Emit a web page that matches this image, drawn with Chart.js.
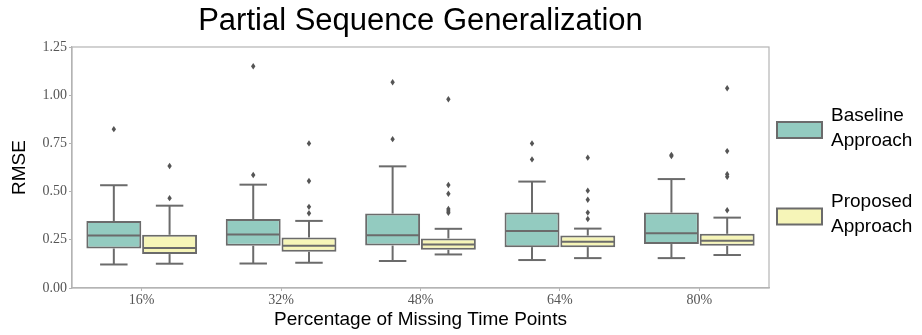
<!DOCTYPE html>
<html>
<head>
<meta charset="utf-8">
<script src="https://cdn.jsdelivr.net/npm/chart.js@4"></script>
<style>
  html, body { margin: 0; padding: 0; background: #fff; }
</style>
</head>
<body>
<canvas id="chart" width="922" height="335"></canvas>
<script>
/* ── DATOS ─────────────────────────────────── */

const CATEGORIAS = ["16%", "32%", "48%", "64%", "80%"];
const Y_TICKS = [0, 0.25, 0.5, 0.75, 1.0, 1.25];

// Baseline Approach
const baseMin = [0.122, 0.127, 0.140, 0.145, 0.155];
const baseQ1  = [0.205, 0.219, 0.220, 0.212, 0.228];
const baseMed = [0.272, 0.277, 0.274, 0.296, 0.284];
const baseQ3  = [0.347, 0.358, 0.386, 0.391, 0.391];
const baseMax = [0.533, 0.536, 0.631, 0.552, 0.565];
const baseOut = [
  [0.824],
  [1.150, 0.586],
  [1.067, 0.772],
  [0.750, 0.667],
  [0.690, 0.684],
];

// Proposed Approach
const propMin = [0.126, 0.131, 0.174, 0.155, 0.171];
const propQ1  = [0.176, 0.188, 0.198, 0.212, 0.219];
const propMed = [0.208, 0.219, 0.226, 0.240, 0.245];
const propQ3  = [0.276, 0.262, 0.257, 0.272, 0.281];
const propMax = [0.427, 0.348, 0.307, 0.308, 0.365];
const propOut = [
  [0.633, 0.466],
  [0.750, 0.555, 0.421, 0.388],
  [0.979, 0.534, 0.489, 0.410, 0.400, 0.390],
  [0.676, 0.505, 0.458, 0.391, 0.358],
  [1.036, 0.710, 0.590, 0.577, 0.403],
];

const SERIES = [
  { nombre: ["Baseline", "Approach"], min: baseMin, q1: baseQ1, med: baseMed, q3: baseQ3, max: baseMax, out: baseOut },
  { nombre: ["Proposed", "Approach"], min: propMin, q1: propQ1, med: propMed, q3: propQ3, max: propMax, out: propOut },
];

/* ── ESTILO ────────────────────────────────── */

const COLORS = ["#93cbc0", "#f6f5b8"];
const LINEA = "#6b6b6b";
const MARCO = "#b4b4b4";
const SANS = "'Liberation Sans', Arial, sans-serif";
const SERIF = "'Liberation Serif', 'Times New Roman', serif";

// ── PLUGIN: bigotes, medianas, outliers, marco, título y leyenda ──

const boxPlugin = {
  id: "boxExtras",
  beforeDatasetsDraw(chart) {
    const { ctx, chartArea: a } = chart;
    ctx.save();
    ctx.strokeStyle = MARCO;
    ctx.lineWidth = 1.2;
    ctx.strokeRect(a.left, a.top, a.right - a.left, a.bottom - a.top);
    ctx.restore();
  },
  afterDatasetsDraw(chart) {
    const { ctx } = chart;
    const y = chart.scales.y;
    ctx.save();
    ctx.strokeStyle = LINEA;
    ctx.lineWidth = 2;
    SERIES.forEach((s, d) => {
      chart.getDatasetMeta(d).data.forEach((bar, i) => {
        const x = bar.x, w = bar.width;
        const line = (x1, y1, x2, y2) => {
          ctx.beginPath(); ctx.moveTo(x1, y1); ctx.lineTo(x2, y2); ctx.stroke();
        };
        // bigotes
        line(x, y.getPixelForValue(s.q3[i]), x, y.getPixelForValue(s.max[i]));
        line(x, y.getPixelForValue(s.q1[i]), x, y.getPixelForValue(s.min[i]));
        line(x - w / 4, y.getPixelForValue(s.max[i]), x + w / 4, y.getPixelForValue(s.max[i]));
        line(x - w / 4, y.getPixelForValue(s.min[i]), x + w / 4, y.getPixelForValue(s.min[i]));
        // mediana
        line(x - w / 2 + 1, y.getPixelForValue(s.med[i]), x + w / 2 - 1, y.getPixelForValue(s.med[i]));
        // outliers (rombos finos)
        ctx.fillStyle = "#555";
        s.out[i].forEach(v => {
          const py = y.getPixelForValue(v);
          ctx.beginPath();
          ctx.moveTo(x, py - 3.2);
          ctx.lineTo(x + 2.2, py);
          ctx.lineTo(x, py + 3.2);
          ctx.lineTo(x - 2.2, py);
          ctx.closePath();
          ctx.fill();
        });
      });
    });
    ctx.restore();
  },
  afterDraw(chart) {
    const { ctx, chartArea: a } = chart;
    ctx.save();
    // título
    ctx.fillStyle = "#000";
    ctx.font = `31px ${SANS}`;
    ctx.textAlign = "center";
    ctx.textBaseline = "alphabetic";
    ctx.fillText("Partial Sequence Generalization", (a.left + a.right) / 2, 29.5);

    // leyenda
    const lx = a.right + 8;
    const tops = [122, 208.5];
    const textY = [[121, 146], [207, 232]];
    ctx.font = `19px ${SANS}`;
    ctx.textAlign = "left";
    SERIES.forEach((s, d) => {
      ctx.fillStyle = COLORS[d];
      ctx.fillRect(lx, tops[d], 45, 16);
      ctx.strokeStyle = LINEA;
      ctx.lineWidth = 2;
      ctx.strokeRect(lx, tops[d], 45, 16);
      ctx.fillStyle = "#000";
      s.nombre.forEach((t, k) => ctx.fillText(t, lx + 54, textY[d][k]));
    });
    ctx.restore();
  }
};

/* ── INIT ──────────────────────────────────── */

function initChart() {
  const ctx = document.getElementById("chart").getContext("2d");
  return new Chart(ctx, {
    type: "bar",
    data: {
      labels: CATEGORIAS,
      datasets: SERIES.map((s, d) => ({
        label: s.nombre.join(" "),
        data: s.q1.map((q, i) => [q, s.q3[i]]),
        backgroundColor: COLORS[d],
        borderColor: LINEA,
        borderWidth: 2,
        borderSkipped: false,
        categoryPercentage: 0.8,
        barPercentage: 0.985,
      }))
    },
    options: {
      responsive: false,
      devicePixelRatio: 1,
      animation: false,
      layout: { padding: { top: 47, right: 153, left: 0, bottom: 0 } },
      plugins: {
        legend: { display: false },
        tooltip: { enabled: false },
        title: { display: false },
      },
      scales: {
        x: {
          afterFit: s => { s.height = 47; },
          grid: { offset: false, drawOnChartArea: false, tickLength: 3, color: MARCO },
          border: { color: MARCO, width: 1.2 },
          ticks: { color: "#555", padding: 1, font: { family: SERIF, size: 14 } },
          title: {
            display: true,
            text: "Percentage of Missing Time Points",
            color: "#000",
            font: { family: SANS, size: 19 },
            padding: { top: 0, bottom: 4 },
          },
        },
        y: {
          min: 0,
          max: 1.25,
          afterFit: s => { s.width = 72; },
          afterBuildTicks: s => { s.ticks = Y_TICKS.map(v => ({ value: v })); },
          grid: { drawOnChartArea: false, tickLength: 3, color: MARCO },
          border: { color: MARCO, width: 1.2 },
          ticks: {
            color: "#555",
            padding: 2,
            font: { family: SERIF, size: 14 },
            callback: v => v.toFixed(2),
          },
          title: {
            display: true,
            text: "RMSE",
            color: "#000",
            font: { family: SANS, size: 19 },
            padding: { top: 8, bottom: 0 },
          },
        }
      }
    },
    plugins: [boxPlugin]
  });
}

document.addEventListener("DOMContentLoaded", initChart);
</script>
</body>
</html>
